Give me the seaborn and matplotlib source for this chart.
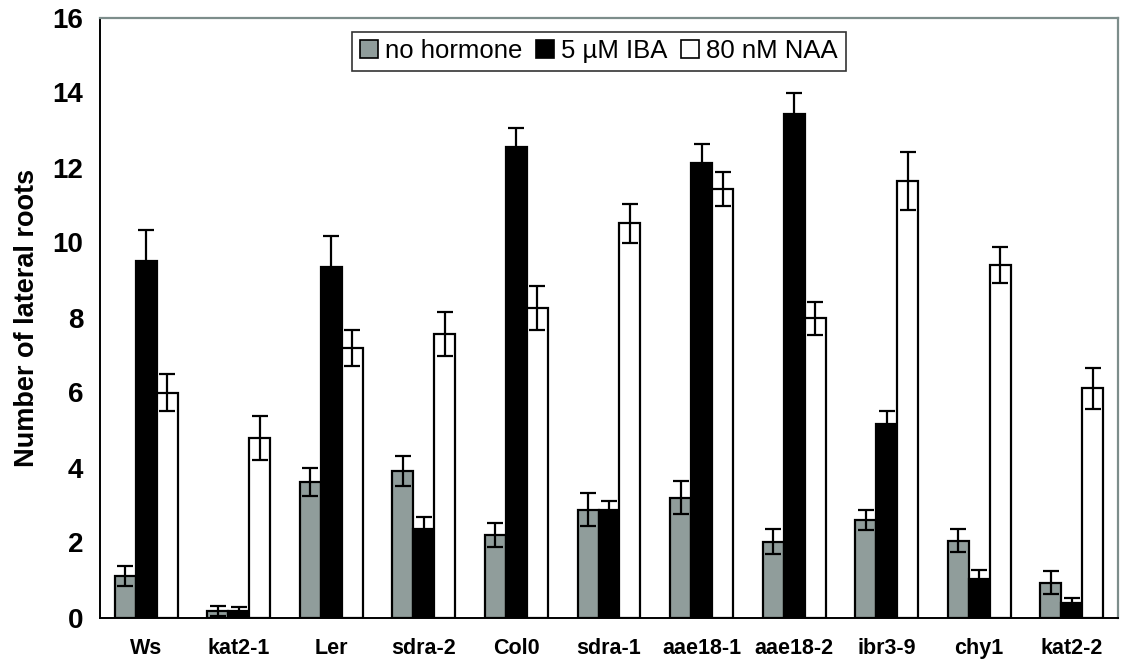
import matplotlib
matplotlib.use("Agg")
import matplotlib.pyplot as plt
import seaborn as sns
import pandas as pd
import numpy as np

genotypes = ["Ws", "kat2-1", "Ler", "sdra-2", "Col0", "sdra-1",
             "aae18-1", "aae18-2", "ibr3-9", "chy1", "kat2-2"]
treatments = ["no hormone", "5 µM IBA", "80 nM NAA"]

no_hormone = [1.11, 0.18, 3.62, 3.92, 2.20, 2.87, 3.20, 2.02, 2.60, 2.05, 0.93]
no_hormone_err = [0.27, 0.13, 0.37, 0.40, 0.33, 0.44, 0.44, 0.33, 0.27, 0.30, 0.31]
iba = [9.51, 0.18, 9.34, 2.36, 12.54, 2.87, 12.13, 13.44, 5.15, 1.04, 0.38]
iba_err = [0.82, 0.09, 0.84, 0.33, 0.52, 0.25, 0.50, 0.54, 0.36, 0.23, 0.13]
naa = [6.00, 4.78, 7.20, 7.56, 8.25, 10.51, 11.43, 7.98, 11.64, 9.40, 6.11]
naa_err = [0.49, 0.59, 0.48, 0.59, 0.59, 0.52, 0.45, 0.44, 0.77, 0.47, 0.55]

values = [no_hormone, iba, naa]
errors = [no_hormone_err, iba_err, naa_err]
colors = ["#8e9f9c", "#000000", "#ffffff"]

df = pd.DataFrame({
    "genotype": genotypes * 3,
    "treatment": [t for t in treatments for _ in genotypes],
    "value": no_hormone + iba + naa,
})

sns.set_style("white")
plt.rcParams["font.family"] = ["Liberation Sans", "DejaVu Sans"]
plt.rcParams["text.color"] = "black"

fig = plt.figure(figsize=(11.22, 6.66), dpi=100)
ax = fig.add_axes([100 / 1122, 48.5 / 666, 1018 / 1122, 600 / 666])

sns.barplot(data=df, x="genotype", y="value", hue="treatment",
            order=genotypes, hue_order=treatments,
            palette=dict(zip(treatments, colors)),
            edgecolor="black", linewidth=1.6, width=0.68, gap=0,
            errorbar=None, ax=ax, legend=True)

# error bars at bar centres
n = len(genotypes)
bar_containers = list(ax.containers)
for k, cont in enumerate(bar_containers):
    xs = [p.get_x() + p.get_width() / 2 for p in cont.patches]
    ax.errorbar(xs, values[k], yerr=errors[k], fmt="none", ecolor="black",
                elinewidth=1.6, capsize=5.8, capthick=1.6, zorder=5)

ax.set_xlim(-0.5, n - 0.5)
ax.set_ylim(0, 16)
ax.set_yticks(np.arange(0, 17, 2))
ax.set_yticklabels([str(v) for v in range(0, 17, 2)], fontsize=20, fontweight="bold")
ax.set_xticks(range(n))
ax.set_xticklabels(genotypes, fontsize=15.5, fontweight="bold")
ax.set_xticks(np.arange(-0.5, n, 1.0), minor=True)
ax.tick_params(axis="x", which="major", length=0, pad=15)
ax.tick_params(axis="x", which="minor", length=6, width=1.2, color="black", direction="out")
ax.tick_params(axis="y", which="major", length=8, width=1.2, color="black", direction="out", pad=4)
ax.tick_params(axis="both", colors="black", labelcolor="black")

ax.set_xlabel("")
ax.set_ylabel("Number of lateral roots", fontsize=19.5, fontweight="bold",
              labelpad=9, color="black")

for side in ["left", "bottom"]:
    ax.spines[side].set_color("black")
    ax.spines[side].set_linewidth(1.4)
for side in ["top", "right"]:
    ax.spines[side].set_visible(True)
    ax.spines[side].set_color("#7d8d8b")
    ax.spines[side].set_linewidth(1.6)

leg = ax.legend(loc="upper center", bbox_to_anchor=(0.49, 0.985), ncol=3,
                frameon=True, fancybox=False, fontsize=18.5,
                handlelength=0.7, handleheight=0.7, handletextpad=0.3,
                columnspacing=0.5, borderpad=0.3, edgecolor="black",
                borderaxespad=0.2)
leg.get_frame().set_linewidth(1.2)
for t in leg.get_texts():
    t.set_color("black")
for h in leg.legend_handles:
    h.set_edgecolor("black")
    h.set_linewidth(1.2)

fig.savefig("out.png", dpi=100)
